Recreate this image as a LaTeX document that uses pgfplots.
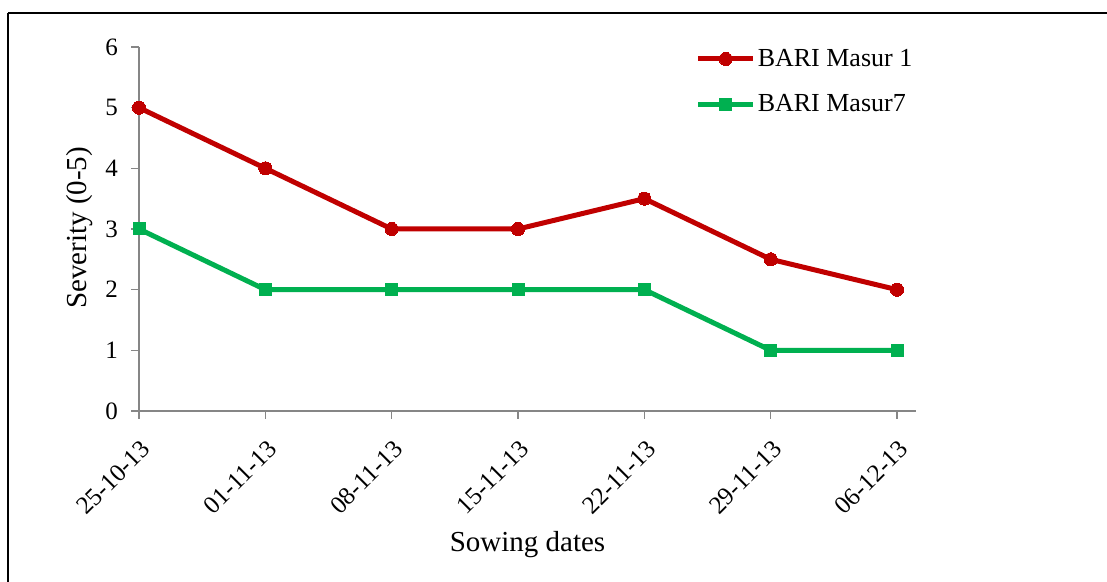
\documentclass[border=0pt]{standalone}
\usepackage{fontspec}
\setmainfont{Liberation Serif}
\usepackage{pgfplots}
\pgfplotsset{compat=1.18}
\definecolor{cred}{RGB}{192,0,0}
\definecolor{cgreen}{RGB}{0,176,80}
\definecolor{caxis}{RGB}{134,134,134}
\begin{document}
\begin{tikzpicture}
\useasboundingbox (0pt,0pt) rectangle (553.5pt,291pt);
\draw[black,line width=0.9pt] (4pt,284.5pt) -- (560pt,284.5pt);
\draw[black,line width=0.9pt] (4pt,284.5pt) -- (4pt,-10pt);
\begin{axis}[
  at={(69.5pt,85.5pt)}, anchor=south west,
  scale only axis, width=388.5pt, height=182pt,
  xmin=0, xmax=6.15, ymin=0, ymax=6,
  axis lines*=left,
  axis line style={caxis, line width=0.6pt},
  every tick/.style={caxis, line width=0.6pt},
  tick align=outside, major tick length=4pt,
  xtick={0,1,2,3,4,5,6},
  xticklabels={25-10-13,01-11-13,08-11-13,15-11-13,22-11-13,29-11-13,06-12-13},
  ytick={0,1,2,3,4,5,6},
  /pgf/number format/assume math mode=true,
  tick label style={font=\fontsize{12.5pt}{14pt}\selectfont, black},
  xticklabel style={xshift=3.5pt, yshift=-13pt, rotate=45, anchor=east, inner sep=0pt},
  yticklabel style={xshift=-3pt},
  xlabel={Sowing dates},
  ylabel={Severity (0-5)},
  label style={font=\fontsize{14.5pt}{16pt}\selectfont},
  xlabel style={at={(axis description cs:0.5,-0.368)}, anchor=center},
  ylabel style={at={(axis description cs:-0.0759,0.503)}, anchor=center, rotate=0},
  legend style={draw=none, fill=none, at={(axis description cs:0.716,0.905)}, anchor=west,
    font=\fontsize{13pt}{15pt}\selectfont, row sep=8.5pt, inner sep=0pt,
    nodes={inner xsep=1pt},
    legend cell align=left},
  legend image code/.code={\draw[mark repeat=2,mark phase=2,#1] plot coordinates {(0pt,0pt) (13.75pt,0pt) (27.5pt,0pt)};},
  clip=false,
]
\addplot[cred, line width=2.5pt, mark=*, mark size=3.3pt, mark options={solid, fill=cred, draw=cred, line width=0pt}]
  coordinates {(0,5) (1,4) (2,3) (3,3) (4,3.5) (5,2.5) (6,2)};
\addlegendentry{BARI Masur 1}
\addplot[cgreen, line width=2.5pt, mark=square*, mark size=3pt, mark options={solid, fill=cgreen, draw=cgreen, line width=0pt}]
  coordinates {(0,3) (1,2) (2,2) (3,2) (4,2) (5,1) (6,1)};
\addlegendentry{BARI Masur7}
\end{axis}
\end{tikzpicture}
\end{document}
